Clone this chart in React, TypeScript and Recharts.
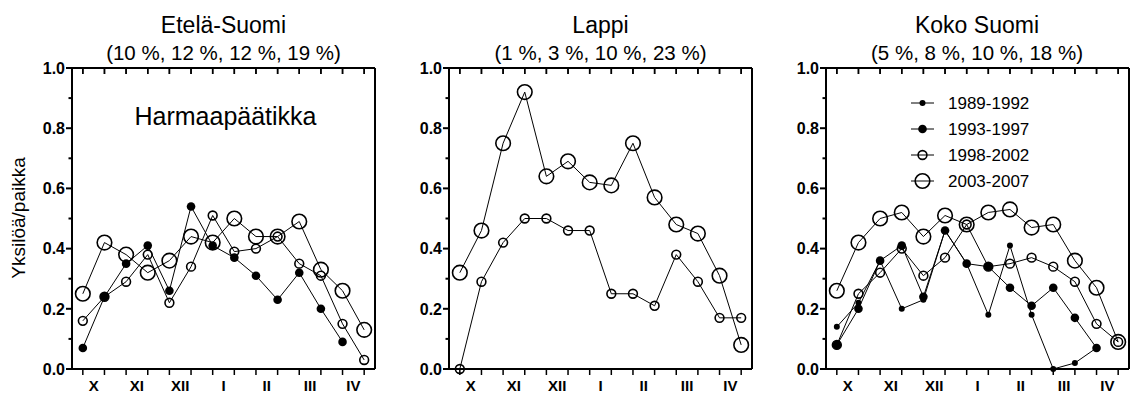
import { LineChart, Line, XAxis, YAxis, Legend } from "recharts"

// half-month positions, Oct..Apr
const positions = [1, 2, 3, 4, 5, 6, 7, 8, 9, 10, 11, 12, 13, 14]
const monthTicks = [1.5, 3.5, 5.5, 7.5, 9.5, 11.5, 13.5]
const monthLabels = ["X", "XI", "XII", "I", "II", "III", "IV"]
const yTicks = [0, 0.1, 0.2, 0.3, 0.4, 0.5, 0.6, 0.7, 0.8, 0.9, 1.0]
// top edge of the frame, one entry per half-month (carries the inward ticks)
const frameTop = [1, 1, 1, 1, 1, 1, 1, 1, 1, 1, 1, 1, 1, 1]

const periods = ["1989-1992", "1993-1997", "1998-2002", "2003-2007"]

// Etelä-Suomi
const southS2 = [0.07, 0.24, 0.35, 0.41, 0.26, 0.54, 0.41, 0.37, 0.31, 0.23, 0.32, 0.2, 0.09, null]
const southS3 = [0.16, 0.24, 0.29, 0.38, 0.22, 0.34, 0.51, 0.39, 0.4, 0.44, 0.35, 0.31, 0.15, 0.03]
const southS4 = [0.25, 0.42, 0.38, 0.32, 0.36, 0.44, 0.42, 0.5, 0.44, 0.44, 0.49, 0.33, 0.26, 0.13]

// Lappi
const lappiS3 = [0.0, 0.29, 0.42, 0.5, 0.5, 0.46, 0.46, 0.25, 0.25, 0.21, 0.38, 0.29, 0.17, 0.17]
const lappiS4 = [0.32, 0.46, 0.75, 0.92, 0.64, 0.69, 0.62, 0.61, 0.75, 0.57, 0.48, 0.45, 0.31, 0.08]

// Koko Suomi
const allS1 = [0.14, 0.22, 0.36, 0.2, 0.23, 0.46, 0.35, 0.18, 0.41, 0.18, 0.0, 0.02, 0.07, null]
const allS2 = [0.08, 0.2, 0.36, 0.41, 0.24, 0.46, 0.35, 0.34, 0.27, 0.21, 0.27, 0.17, 0.07, null]
const allS3 = [0.08, 0.25, 0.32, 0.4, 0.31, 0.37, 0.48, 0.34, 0.35, 0.37, 0.34, 0.29, 0.15, 0.09]
const allS4 = [0.26, 0.42, 0.5, 0.52, 0.44, 0.51, 0.48, 0.52, 0.53, 0.47, 0.48, 0.36, 0.27, 0.09]

type Row = { pos: number; top: number; s1?: number | null; s2?: number | null; s3?: number | null; s4?: number | null }

const buildRows = (series: { [k: string]: (number | null)[] }): Row[] =>
  positions.map((pos, i) => {
    const row: Row = { pos, top: frameTop[i] }
    Object.keys(series).forEach((k) => {
      ;(row as any)[k] = series[k][i]
    })
    return row
  })

const southRows = buildRows({ s2: southS2, s3: southS3, s4: southS4 })
const lappiRows = buildRows({ s3: lappiS3, s4: lappiS4 })
const allRows = buildRows({ s1: allS1, s2: allS2, s3: allS3, s4: allS4 })

const FONT = '"Liberation Sans", Arial, sans-serif'

const markers: { [k: string]: { r: number; filled: boolean } } = {
  s1: { r: 3, filled: true },
  s2: { r: 4.3, filled: true },
  s3: { r: 4.4, filled: false },
  s4: { r: 7.3, filled: false },
}

const dotFor = (k: string) => {
  const m = markers[k]
  return m.filled
    ? { r: m.r, fill: "#000", stroke: "#000", strokeWidth: 0 }
    : { r: m.r, fill: "none", stroke: "#000", strokeWidth: 1.6 }
}

const LeftTick = (props: any) => {
  const { x, y, payload } = props
  const v = payload.value
  const major = Math.round(v * 10) % 2 === 0
  const edge = x + 8
  return (
    <g>
      <line x1={edge - (major ? 6 : 3.5)} x2={edge} y1={y} y2={y} stroke="#000" strokeWidth={2} />
      {major && (
        <text
          x={edge - 7}
          y={y}
          dy="0.36em"
          textAnchor="end"
          style={{ fontSize: 16, fontWeight: "bold", fontFamily: FONT }}
          fill="#000"
        >
          {v.toFixed(1)}
        </text>
      )}
    </g>
  )
}

const RightTick = (props: any) => {
  const { x, y, payload } = props
  const major = Math.round(payload.value * 10) % 2 === 0
  const edge = x - 8
  return <line x1={edge} x2={edge + (major ? 6 : 3.5)} y1={y} y2={y} stroke="#000" strokeWidth={2} />
}

// inward tick hanging from the top frame
const TopTickDot = (props: any) => {
  const { cx, cy, index } = props
  if (cx == null || cy == null) return <g key={"tt" + index} />
  return <line key={"tt" + index} x1={cx} x2={cx} y1={cy} y2={cy + 6} stroke="#000" strokeWidth={1.5} />
}

const LegendBox = () => (
  <svg width={200} height={110}>
    {periods.map((p, i) => {
      const k = "s" + (i + 1)
      const d = dotFor(k)
      const cy = 13 + i * 26
      return (
        <g key={p}>
          <line x1={0} x2={23} y1={cy} y2={cy} stroke="#000" strokeWidth={1} />
          <circle cx={11.5} cy={cy} {...d} />
          <text x={37} y={cy} dy="0.36em" fontSize={17} fill="#000" fontFamily={FONT}>
            {p}
          </text>
        </g>
      )
    })}
  </svg>
)

const axisStroke = { stroke: "#000", strokeWidth: 2 }

function Panel({ rows, keys, left, legend }: { rows: Row[]; keys: string[]; left: number; legend?: boolean }) {
  return (
    <div style={{ position: "absolute", left, top: 0 }}>
      <LineChart width={390} height={394} data={rows} margin={{ top: 68, right: 5, left: 32, bottom: 0 }}>
        <XAxis
          xAxisId={0}
          type="number"
          dataKey="pos"
          domain={[0.5, 14.5]}
          ticks={positions}
          interval={0}
          tickFormatter={() => ""}
          tickSize={6}
          height={6}
          axisLine={axisStroke}
          tickLine={{ stroke: "#000", strokeWidth: 1.5 }}
        />
        <XAxis
          xAxisId="lab"
          type="number"
          dataKey="pos"
          domain={[0.5, 14.5]}
          ticks={monthTicks}
          interval={0}
          tickFormatter={(v: number) => monthLabels[Math.round((v - 1.5) / 2)]}
          axisLine={false}
          tickLine={false}
          tickSize={0}
          tickMargin={5}
          height={19}
          tick={{ fill: "#000", fontSize: 15, fontWeight: "bold", fontFamily: FONT }}
        />
        <XAxis
          xAxisId="top"
          orientation="top"
          mirror
          type="number"
          dataKey="pos"
          domain={[0.5, 14.5]}
          ticks={positions}
          interval={0}
          tickFormatter={() => ""}
          tickSize={6}
          height={30}
          axisLine={axisStroke}
          tickLine={{ stroke: "#000", strokeWidth: 1.5 }}
        />
        <YAxis
          yAxisId={0}
          domain={[0, 1]}
          ticks={yTicks}
          interval={0}
          width={40}
          tickSize={6}
          tickMargin={2}
          tickLine={false}
          tick={<LeftTick />}
          axisLine={axisStroke}
        />
        <YAxis
          yAxisId="r"
          orientation="right"
          domain={[0, 1]}
          ticks={yTicks}
          interval={0}
          width={10}
          tickSize={6}
          tickMargin={2}
          tickLine={false}
          tick={<RightTick />}
          axisLine={axisStroke}
        />
        <Line
          xAxisId={0}
          yAxisId={0}
          dataKey="top"
          stroke="none"
          strokeWidth={0}
          dot={TopTickDot}
          activeDot={false}
          legendType="none"
          isAnimationActive={false}
        />
        {keys.map((k) => (
          <Line
            key={k}
            xAxisId={0}
            yAxisId={0}
            dataKey={k}
            name={periods[Number(k.slice(1)) - 1]}
            stroke="#000"
            strokeWidth={1}
            dot={dotFor(k)}
            activeDot={false}
            isAnimationActive={false}
          />
        ))}
        {legend && (
          <Legend
            layout="horizontal"
            verticalAlign="middle"
            align="center"
            content={() => <LegendBox />}
            wrapperStyle={{ position: "absolute", left: 157, top: 90, width: 200, height: 110 }}
          />
        )}
      </LineChart>
    </div>
  )
}

const titles = [
  { x: 223.5, name: "Etelä-Suomi", share: "(10 %, 12 %, 12 %, 19 %)" },
  { x: 600.5, name: "Lappi", share: "(1 %, 3 %, 10 %, 23 %)" },
  { x: 977, name: "Koko Suomi", share: "(5 %, 8 %, 10 %, 18 %)" },
]

export default function App() {
  return (
    <div
      style={{
        position: "absolute",
        left: 0,
        top: 0,
        width: 1130,
        height: 394,
        overflow: "hidden",
        background: "#fff",
        fontFamily: FONT,
      }}
    >
      <Panel rows={southRows} keys={["s2", "s3", "s4"]} left={0} />
      <Panel rows={lappiRows} keys={["s3", "s4"]} left={377} />
      <Panel rows={allRows} keys={["s1", "s2", "s3", "s4"]} left={754} legend />
      <svg width={1130} height={394} style={{ position: "absolute", left: 0, top: 0, pointerEvents: "none" }}>
        {titles.map((t) => (
          <g key={t.name} fontFamily={FONT} fill="#000" textAnchor="middle">
            <text x={t.x} y={33} fontSize={23}>
              {t.name}
            </text>
            <text x={t.x} y={60} fontSize={20.5}>
              {t.share}
            </text>
          </g>
        ))}
        <text x={225.5} y={125} fontSize={25} textAnchor="middle" fontFamily={FONT} fill="#000">
          Harmaapäätikka
        </text>
        <text
          x={25}
          y={218}
          fontSize={19}
          textAnchor="middle"
          fontFamily={FONT}
          fill="#000"
          transform="rotate(-90 25 218)"
        >
          Yksilöä/paikka
        </text>
      </svg>
    </div>
  )
}
